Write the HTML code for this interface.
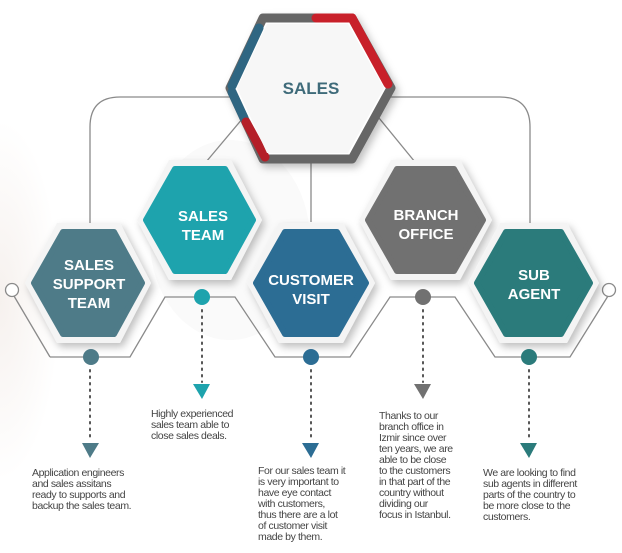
<!DOCTYPE html>
<html><head><meta charset="utf-8"><style>
html,body{margin:0;padding:0;background:#fff;}
svg{display:block}
.t{font-family:"Liberation Sans",sans-serif;font-weight:bold;fill:#fff;font-size:15px;text-anchor:middle}
.d{font-family:"Liberation Sans",sans-serif;font-size:10.5px;fill:#444;letter-spacing:-0.4px}
</style></head><body>
<svg width="622" height="553" viewBox="0 0 622 553" xmlns="http://www.w3.org/2000/svg">
<defs>
<filter id="sh" x="-30%" y="-30%" width="160%" height="160%"><feDropShadow dx="3" dy="4" stdDeviation="4" flood-color="#000" flood-opacity="0.25"/></filter>
<radialGradient id="bg" cx="0.5" cy="0.5" r="0.5"><stop offset="0" stop-color="#f6f1ee"/><stop offset="1" stop-color="#fff"/></radialGradient>
</defs>
<ellipse cx="0" cy="300" rx="60" ry="180" fill="url(#bg)"/>
<ellipse cx="230" cy="240" rx="80" ry="100" fill="#fafafa"/>
<g fill="none" stroke="#8a8a8a" stroke-width="1.3">
<path d="M243 97 H120 Q90 97 90 127 V225"/>
<path d="M380 97 H500 Q530 97 530 127 V225"/>
<line x1="243" y1="118" x2="206" y2="162"/>
<line x1="379" y1="118" x2="415" y2="162"/>
<line x1="311" y1="160" x2="311" y2="222"/>
<polyline points="14,296 50,357"/>
<polyline points="50,357 130,357 165,297 235,297 275,357 350,357 390,297 455,297 495,357 570,357 608,296"/>
</g>
<circle cx="12" cy="290" r="6.5" fill="#fff" stroke="#8a8a8a" stroke-width="1.3"/>
<circle cx="609" cy="290" r="6.5" fill="#fff" stroke="#8a8a8a" stroke-width="1.3"/>
<g filter="url(#sh)">
<polygon points="230,88 263,18 352,18 391,88 352,159 263,159" fill="#fff" stroke="#666" stroke-width="9" stroke-linejoin="round"/>
</g>
<g stroke-width="9" stroke-linecap="round" fill="none">
<line x1="316" y1="18" x2="352" y2="18" stroke="#c8202a"/>
<line x1="352" y1="18" x2="388" y2="84" stroke="#c8202a"/>
<line x1="259" y1="28" x2="232" y2="86" stroke="#2f6682"/>
<line x1="232" y1="92" x2="244" y2="118" stroke="#2f6682"/>
<line x1="246" y1="122" x2="265" y2="157" stroke="#b41f28"/>
</g>
<polygon points="237,88 267,24 348,24 384,88 348,153 267,153" fill="#f7f7f7"/>
<text x="311" y="94" class="t" style="fill:#3f6b7a;font-size:17px">SALES</text>
<g filter="url(#sh)" fill="#f4f4f4">
<polygon points="25,283 57,223 120,223 151,283 120,343 57,343"/>
<polygon points="137,220 169,160 231,160 262,220 231,280 169,280"/>
<polygon points="247,283 279,223 343,223 375,283 343,343 279,343"/>
<polygon points="359,220 391,160 460,160 492,220 460,280 391,280"/>
<polygon points="468,283 500,223 567,223 599,283 567,343 500,343"/>
</g>
<g stroke-linejoin="round" stroke-width="6">
<polygon points="34,283 63,232 114,232 142,283 114,334 63,334" fill="#4e7b88" stroke="#4e7b88"/>
<polygon points="146,220 175,169 225,169 253,220 225,271 175,271" fill="#1ea3ad" stroke="#1ea3ad"/>
<polygon points="256,283 285,232 337,232 366,283 337,334 285,334" fill="#2c6d94" stroke="#2c6d94"/>
<polygon points="368,220 397,169 454,169 483,220 454,271 397,271" fill="#717171" stroke="#717171"/>
<polygon points="477,283 506,232 561,232 590,283 561,334 506,334" fill="#2b7b7b" stroke="#2b7b7b"/>
</g>
<text class="t"><tspan x="89" y="270">SALES</tspan><tspan x="89" y="289">SUPPORT</tspan><tspan x="89" y="308">TEAM</tspan></text>
<text class="t"><tspan x="203" y="221">SALES</tspan><tspan x="203" y="240">TEAM</tspan></text>
<text class="t"><tspan x="311" y="285">CUSTOMER</tspan><tspan x="311" y="304">VISIT</tspan></text>
<text class="t"><tspan x="426" y="220">BRANCH</tspan><tspan x="426" y="239">OFFICE</tspan></text>
<text class="t"><tspan x="534" y="280">SUB</tspan><tspan x="534" y="299">AGENT</tspan></text>
<g stroke-width="2" stroke-dasharray="1.5 5" stroke-linecap="round" fill="none">
<line x1="90" y1="370" x2="90" y2="440" stroke="#555"/>
<line x1="202" y1="310" x2="202" y2="382" stroke="#555"/>
<line x1="311" y1="370" x2="311" y2="440" stroke="#555"/>
<line x1="423" y1="310" x2="423" y2="382" stroke="#555"/>
<line x1="529" y1="370" x2="529" y2="440" stroke="#555"/>
</g>
<circle cx="91" cy="357" r="8" fill="#4e7b88"/>
<circle cx="202" cy="297" r="8" fill="#1ea3ad"/>
<circle cx="311" cy="357" r="8" fill="#2c6d94"/>
<circle cx="423" cy="297" r="8" fill="#717171"/>
<circle cx="529" cy="357" r="8" fill="#2b7b7b"/>
<polygon points="82,443 99,443 90,458" fill="#4e7b88"/>
<polygon points="193,384 210,384 202,399" fill="#1ea3ad"/>
<polygon points="302,443 319,443 311,458" fill="#2c6d94"/>
<polygon points="414,384 431,384 423,399" fill="#717171"/>
<polygon points="520,443 537,443 529,458" fill="#2b7b7b"/>
<text class="d"><tspan x="32" y="476">Application engineers</tspan><tspan x="32" y="487">and sales assitans</tspan><tspan x="32" y="498">ready to supports and</tspan><tspan x="32" y="509">backup the sales team.</tspan></text>
<text class="d"><tspan x="151" y="417">Highly experienced</tspan><tspan x="151" y="428">sales team able to</tspan><tspan x="151" y="439">close sales deals.</tspan></text>
<text class="d"><tspan x="258" y="474">For our sales team it</tspan><tspan x="258" y="485">is very important to</tspan><tspan x="258" y="496">have eye contact</tspan><tspan x="258" y="507">with customers,</tspan><tspan x="258" y="518">thus there are a lot</tspan><tspan x="258" y="529">of customer visit</tspan><tspan x="258" y="540">made by them.</tspan></text>
<text class="d"><tspan x="379" y="419">Thanks to our</tspan><tspan x="379" y="430">branch office in</tspan><tspan x="379" y="441">Izmir since over</tspan><tspan x="379" y="452">ten years, we are</tspan><tspan x="379" y="463">able to be close</tspan><tspan x="379" y="474">to the customers</tspan><tspan x="379" y="485">in that part of the</tspan><tspan x="379" y="496">country without</tspan><tspan x="379" y="507">dividing our</tspan><tspan x="379" y="518">focus in Istanbul.</tspan></text>
<text class="d"><tspan x="483" y="476">We are looking to find</tspan><tspan x="483" y="487">sub agents in different</tspan><tspan x="483" y="498">parts of the country to</tspan><tspan x="483" y="509">be more close to the</tspan><tspan x="483" y="520">customers.</tspan></text>
</svg>
</body></html>
